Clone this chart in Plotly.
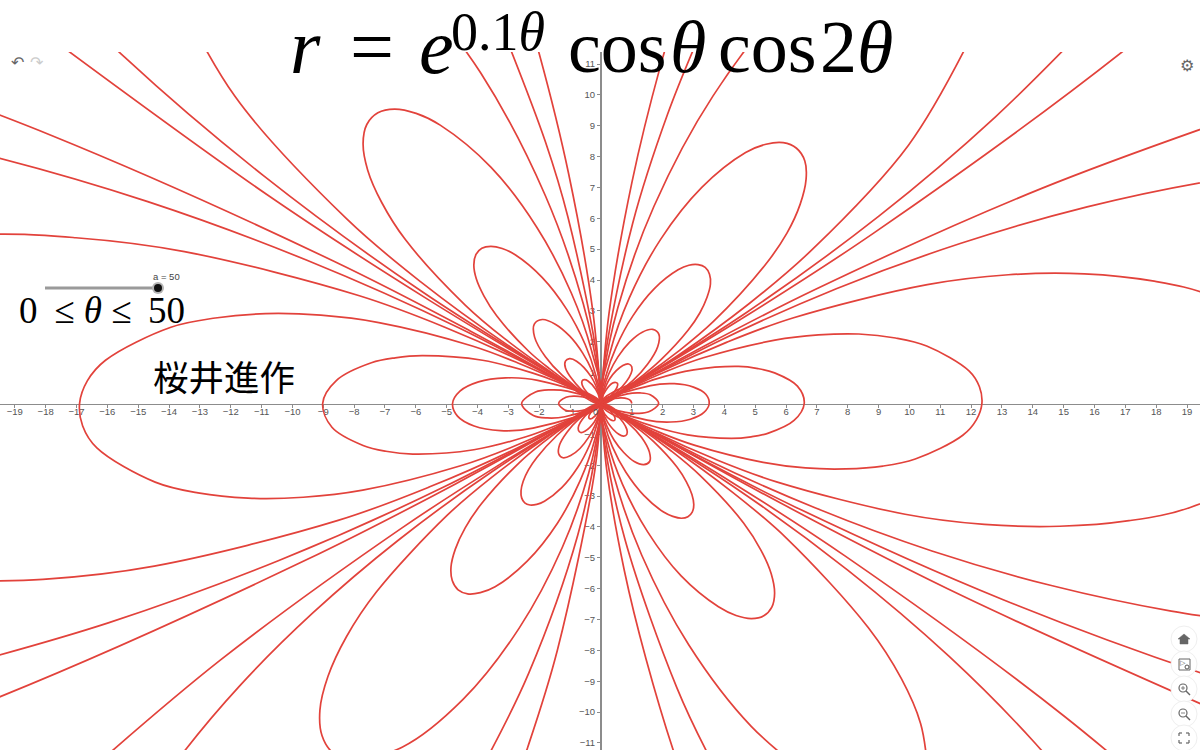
import plotly.graph_objects as go

# Curve points, one list per loop or ray (x, y in axis units).
O = (0, 0)
inner_loops = [
    [(1, 0), (.967, .085), (.855, .151), (.677, .182), (.457, .166), (.269, .120), O],
    [O, (-.22, -.16), (-.38, -.38), (-.39, -.47), (-.35, -.50), (-.28, -.48), (-.11, -.31), (-.02, -.10), O],
    [O, (.02, -.10), (.12, -.34), (.31, -.53), (.40, -.56), (.45, -.54), (.45, -.45), (.26, -.19), O],
    [O, (-.58, .21), (-.88, .24), (-1.13, .20), (-1.37, 0), (-1.17, -.21), (-.93, -.25), (-.63, -.23), O],
    [O, (.29, .21), (.52, .52), (.54, .64), (.48, .68), (.38, .66), (.16, .43), (.02, .14), O],
    [O, (-.03, .14), (-.17, .46), (-.42, .73), (-.54, .77), (-.61, .73), (-.61, .61), (-.36, .26), O],
    [O, (.80, -.29), (1.20, -.32), (1.55, -.27), (1.87, 0), (1.60, .28), (1.27, .34), (.86, .31), O],
    [O, (-.40, -.29), (-.72, -.72), (-.73, -.87), (-.66, -.94), (-.52, -.90), (-.21, -.59), (-.03, -.19), O],
    [O, (.03, -.19), (.23, -.63), (.58, -1.00), (.74, -1.06), (.84, -1.00), (.84, -.84), (.49, -.35), O],
    [O, (-1.09, .40), (-1.65, .44), (-2.12, .37), (-2.57, 0), (-2.19, -.39), (-1.74, -.47), (-1.17, -.43), O],
    [O, (.55, .40), (.98, .98), (1.00, 1.19), (.90, 1.28), (.71, 1.23), (.29, .81), (.05, .25), O],
    [O, (-.05, .26), (-.32, .87), (-.79, 1.37), (-1.02, 1.45), (-1.15, 1.37), (-1.15, 1.15), (-.67, .48), O],
]
middle_loops = [
    [O, (1.50, -.54), (2.26, -.60), (2.90, -.51), (3.34, -.29), (3.51, 0), (3.40, .30), (3.00, .53), (2.38, .64), (1.61, .58), O],
    [O, (-.76, -.55), (-1.10, -.93), (-1.34, -1.34), (-1.37, -1.63), (-1.23, -1.76), (-.98, -1.69), (-.68, -1.46),
     (-.40, -1.10), (-.19, -.71), (-.06, -.35), O],
    [O, (.06, -.36), (.20, -.75), (.43, -1.19), (.74, -1.59), (1.08, -1.88), (1.39, -1.98), (1.58, -1.88),
     (1.57, -1.57), (1.32, -1.10), (.91, -.66), O],
    [O, (-2.05, .75), (-3.09, .83), (-3.97, .70), (-4.57, .40), (-4.81, 0), (-4.65, -.41), (-4.11, -.73), (-3.26, -.88), (-2.20, -.80), O],
    [O, (1.04, .75), (1.51, 1.27), (1.84, 1.84), (1.88, 2.24), (1.68, 2.40), (1.34, 2.31), (.93, 1.99),
     (.55, 1.51), (.26, .97), (.09, .48), O],
    [O, (-.09, .49), (-.27, 1.02), (-.59, 1.63), (-1.01, 2.18), (-1.48, 2.57), (-1.90, 2.72), (-2.16, 2.57),
     (-2.15, 2.15), (-1.80, 1.51), (-1.25, .91), O],
    [O, (.51, -.27), (1.06, -.52), (1.63, -.72), (2.81, -1.02), (4.23, -1.13), (4.87, -1.08), (5.43, -.96), (6.26, -.55), (6.59, 0),
     (6.37, .56), (5.63, .99), (5.09, 1.13), (4.46, 1.20), (3.01, 1.09), (1.77, .79), (1.16, .56), (.56, .30), O],
    [O, (-.52, -.33), (-1.00, -.67), (-1.42, -1.03), (-2.07, -1.74), (-2.35, -2.15), (-2.52, -2.52), (-2.59, -2.83),
     (-2.57, -3.06), (-2.47, -3.22), (-2.30, -3.29), (-2.08, -3.27), (-1.83, -3.17), (-1.27, -2.73), (-.75, -2.07),
     (-.36, -1.33), (-.12, -.65), O],
    [O, (.12, -.67), (.37, -1.40), (.81, -2.23), (1.39, -2.98), (2.03, -3.52), (2.33, -3.66), (2.61, -3.72), (2.82, -3.67),
     (2.96, -3.52), (3.01, -3.28), (2.95, -2.95), (2.77, -2.54), (2.47, -2.07), (1.71, -1.24), (1.21, -.82), (.64, -.40), O],
    [O, (-.70, .37), (-1.45, .71), (-2.23, .99), (-3.84, 1.40), (-5.80, 1.55), (-6.67, 1.48), (-7.44, 1.32), (-8.57, .75), (-9.02, 0),
     (-8.72, -.77), (-7.71, -1.36), (-6.97, -1.55), (-6.10, -1.64), (-4.12, -1.50), (-2.43, -1.08), (-1.59, -.77), (-.77, -.41), O],
    [O, (.72, .45), (1.37, .92), (1.94, 1.41), (2.83, 2.38), (3.21, 2.94), (3.44, 3.44), (3.55, 3.87), (3.52, 4.19),
     (3.38, 4.41), (3.15, 4.50), (2.85, 4.48), (2.50, 4.33), (1.74, 3.73), (1.03, 2.83), (.49, 1.82), (.16, .89), O],
    [O, (-.17, .92), (-.51, 1.91), (-1.11, 3.05), (-1.90, 4.08), (-2.78, 4.82), (-3.20, 5.02), (-3.57, 5.09), (-3.86, 5.03),
     (-4.05, 4.83), (-4.12, 4.49), (-4.04, 4.04), (-3.79, 3.48), (-3.38, 2.84), (-2.35, 1.70), (-1.66, 1.12), (-.88, .55), O],
]
outer_loops = [
    [O, (.96, -.51), (1.98, -.97), (3.05, -1.36), (5.26, -1.91), (6.63, -2.09), (7.94, -2.12), (9.14, -2.03), (10.19, -1.80),
     (11.73, -1.03), (12.17, -.53), (12.35, 0), (12.27, .54), (11.94, 1.05), (10.56, 1.86), (9.55, 2.12), (8.36, 2.25),
     (7.05, 2.22), (5.64, 2.05), (3.32, 1.48), (2.17, 1.06), (1.06, .56), O],
    [O, (-.98, -.61), (-1.87, -1.26), (-2.66, -1.93), (-3.88, -3.26), (-4.40, -4.03), (-4.72, -4.72), (-4.86, -5.30),
     (-4.82, -5.74), (-4.63, -6.04), (-4.32, -6.17), (-3.91, -6.13), (-3.43, -5.94), (-2.39, -5.11), (-1.41, -3.88),
     (-.67, -2.49), (-.21, -1.21), O],
    [O, (.22, -1.26), (.70, -2.62), (1.52, -4.17), (2.60, -5.59), (3.81, -6.59), (4.38, -6.87), (4.88, -6.97), (5.28, -6.88),
     (5.54, -6.60), (5.63, -6.15), (5.52, -5.52), (5.19, -4.76), (4.63, -3.88), (3.21, -2.33), (2.28, -1.54), (1.20, -.75), O],
    [O, (-1.31, .70), (-2.71, 1.32), (-4.17, 1.86), (-7.20, 2.62), (-9.08, 2.86), (-10.87, 2.91), (-12.50, 2.77), (-13.94, 2.47),
     (-16.06, 1.40), (-16.65, .73), (-16.9, 0), (-16.80, -.73), (-16.34, -1.44), (-14.45, -2.55), (-13.06, -2.90), (-11.44, -3.07),
     (-9.65, -3.04), (-7.72, -2.81), (-4.55, -2.02), (-2.97, -1.45), (-1.45, -.77), O],
    [O, (1.34, .84), (2.56, 1.73), (3.64, 2.65), (5.31, 4.47), (6.03, 5.52), (6.46, 6.46), (6.65, 7.26), (6.61, 7.86),
     (6.34, 8.27), (5.91, 8.45), (5.35, 8.40), (4.69, 8.13), (3.27, 7.00), (1.93, 5.31), (.92, 3.42), (.30, 1.67), O],
    [O, (-.31, 1.73), (-.96, 3.58), (-2.08, 5.71), (-3.56, 7.65), (-5.21, 9.02), (-5.99, 9.40), (-6.69, 9.54), (-7.23, 9.42),
     (-7.59, 9.04), (-7.71, 8.42), (-7.56, 7.56), (-7.11, 6.52), (-6.34, 5.31), (-4.40, 3.19), (-3.12, 2.10), (-1.64, 1.03), O],
    [O, (1.80, -.96), (3.71, -1.81), (5.72, -2.55), (9.86, -3.59), (12.43, -3.92), (14.87, -3.98), (17.12, -3.80), (19.10, -3.37),
     (21.99, -1.92), (23.14, 0), (22.38, 1.96), (19.78, 3.49), (17.88, 3.97), (15.67, 4.20), (13.21, 4.17), (10.58, 3.85),
     (6.22, 2.77), (4.07, 1.98), (1.98, 1.05), O],
    [O, (-1.84, -1.15), (-3.51, -2.37), (-4.98, -3.62), (-7.28, -6.11), (-8.25, -7.56), (-8.85, -8.85), (-9.11, -9.94),
     (-9.04, -10.77), (-8.69, -11.32), (-8.10, -11.56), (-6.43, -11.13), (-4.47, -9.59), (-2.65, -7.28), (-1.25, -4.66),
     (-.40, -2.27), (-.05, -.60), O],
]
wide_rays = [
    [O, (.05, -.62), (.42, -2.35), (1.32, -4.91), (2.84, -7.81), (4.88, -10.47), (7.14, -12.36)],
    [(10.56, -11.53), (10.36, -10.36), (9.74, -8.92), (8.67, -7.27), (6.02, -4.37), (4.27, -2.88), (2.25, -1.41), O],
    [O, (-2.46, 1.31), (-5.08, 2.48), (-7.83, 3.49), (-13.50, 4.92), (-17.02, 5.37), (-20.36, 5.46), (-26.15, 4.61)],
    [(-21.45, -5.75), (-18.09, -5.70), (-14.48, -5.27), (-8.52, -3.79), (-5.57, -2.71), (-2.71, -1.44), O],
    [O, (2.52, 1.57), (4.81, 3.24), (6.82, 4.96), (9.97, 8.37), (12.12, 12.12)],
    [(8.80, 15.23), (6.12, 13.13), (3.63, 9.96), (1.72, 6.39), (.55, 3.11), (.07, .83), O],
    [O, (-.07, .84), (-.57, 3.22), (-1.80, 6.73), (-3.89, 10.70), (-6.68, 14.33)],
    [(-14.18, 14.18), (-11.87, 9.96), (-8.24, 5.98), (-5.84, 3.94), (-3.08, 1.93), O],
]
far_rays = [
    [O, (3.37, -1.79), (6.96, -3.39), (10.73, -4.78), (14.6, -5.90), (18.49, -6.73), (22.35, -7.26)],
    [(23.80, 7.73), (19.83, 7.22), (15.76, 6.37), (11.67, 5.19), (7.63, 3.72), (3.71, 1.97), O],
    [O, (-3.44, -2.15), (-6.58, -4.44), (-9.34, -6.79), (-11.71, -9.15), (-13.65, -11.46), (-15.15, -13.64)],
    [(-3.80, -11.70), (-2.34, -8.74), (-.75, -4.26), (-.10, -1.13), O],
    [O, (.10, -1.16), (.78, -4.41), (2.46, -9.21), (3.47, -11.36), (5.33, -14.63)],
    [(16.25, -13.63), (14.04, -10.97), (11.28, -8.19), (8.00, -5.40), (4.22, -2.64), O],
    [O, (-4.61, 2.45), (-9.53, 4.64), (-14.69, 6.54), (-19.98, 8.07), (-25.32, 9.22)],
    [(-21.58, -8.72), (-15.97, -7.11), (-10.44, -5.09), (-5.08, -2.70), O],
    [O, (4.72, 2.95), (9.01, 6.07), (12.79, 9.29), (16.03, 12.52)],
    [(3.21, 11.97), (2.16, 9.37), (1.03, 5.84), (.14, 1.55), O],
    [O, (-.14, 1.58), (-1.07, 6.04), (-1.80, 8.48), (-3.38, 12.61)],
    [(-19.22, 15.02), (-15.44, 11.22), (-10.95, 7.39), (-5.78, 3.61), O],
]
farthest_rays = [
    [O, (3.10, -1.72), (6.31, -3.36), (13.04, -6.36), (20.11, -8.95), (27.4, -11.05)],
    [(21.86, 9.73), (14.29, 6.97), (6.96, 3.70), (3.43, 1.90), O],
    [O, (-3.30, -1.99), (-6.46, -4.04), (-12.34, -8.32), (-17.51, -12.72)],
    [(-3.64, -14.59), (-2.37, -11.13), (-1.41, -7.99), (-.19, -2.12), O],
    [O, (.19, -2.17), (.76, -5.42), (1.46, -8.27), (2.47, -11.61), (4.62, -17.27)],
    [(21.15, -15.37), (15.00, -10.12), (7.91, -4.94), (4.06, -2.44), O],
    [O, (-4.24, 2.35), (-8.64, 4.60), (-17.85, 8.70), (-27.5, 12.25)],
    [(-29.9, -13.3), (-19.57, -9.54), (-9.53, -5.06), (-4.70, -2.60), O],
    [O, (4.52, 2.72), (8.84, 5.52), (16.88, 11.38), (23.97, 17.41)],
    [(3.24, 15.24), (1.93, 10.94), (1.01, 7.19), (.26, 2.90), O],
    [O, (-.26, 2.97), (-1.04, 7.41), (-2.00, 11.33), (-3.38, 15.90)],
    [(-20.54, 13.85), (-10.83, 6.77), (-5.56, 3.34), O],
    [O, (5.81, -3.22), (11.83, -6.29), (24.44, -11.92)],
]

x_tick_values = [v for v in range(-19, 20) if v != 0]
y_tick_values = [v for v in range(-11, 12) if v != 0]


def tick_text(v):
    return f"\u2212{-v}" if v < 0 else str(v)


def px(x):
    return x / 1200


def py(y):
    return 1 - y / 750


xs, ys = [], []
for group in (inner_loops, middle_loops, outer_loops, wide_rays, far_rays, farthest_rays):
    for piece in group:
        xs += [p[0] for p in piece] + [None]
        ys += [p[1] for p in piece] + [None]

fig = go.Figure(go.Scatter(x=xs, y=ys, mode="lines", hoverinfo="skip",
                           line=dict(color="#e2423b", width=1.7, shape="spline", smoothing=1.0)))

AXIS = "#8c8c8c"
TICKFONT = dict(family="Liberation Sans", size=9.5, color="#555555")
fig.update_layout(
    width=1200, height=750, margin=dict(l=0, r=0, t=0, b=0, pad=0),
    paper_bgcolor="white", plot_bgcolor="white", showlegend=False,
    xaxis=dict(range=[-19.48, 19.42], domain=[0, 1], anchor="free", position=0.462,
               showgrid=False, zeroline=False, showline=True, linecolor=AXIS, linewidth=1.2, layer="below traces",
               tickmode="array", tickvals=x_tick_values, ticktext=[tick_text(v) for v in x_tick_values],
               ticks="outside", ticklen=3, tickcolor=AXIS, tickfont=TICKFONT, ticklabelstandoff=-4),
    yaxis=dict(range=[-11.23, 11.39], domain=[0, 0.9307], anchor="free", position=0.5008,
               showgrid=False, zeroline=False, showline=True, linecolor=AXIS, linewidth=2, layer="below traces",
               tickmode="array", tickvals=y_tick_values, ticktext=[tick_text(v) for v in y_tick_values],
               ticks="outside", ticklen=3, tickcolor=AXIS, tickfont=TICKFONT),
)

SERIF = "Liberation Serif"


def label(text, x, y, size, family=SERIF, color="black", anchor="left"):
    fig.add_annotation(text=text, x=px(x), y=py(y), xref="paper", yref="paper", showarrow=False,
                       xanchor=anchor, yanchor="middle", align="left",
                       font=dict(family=family, size=size, color=color))


# Title, placed piece by piece
label("<i>r</i>", 288, 47, 78)
label("=", 348, 47, 78)
label("<i>e</i>", 417, 47, 78)
label("0.1<i>\u03b8</i>", 449, 32, 54)
label("cos", 566, 47, 74)
label("<i>\u03b8</i>", 668, 47, 74)
label("cos", 716, 47, 74)
label("2<i>\u03b8</i>", 818, 47, 74)
# Range text and author
label("0\u2009 \u2264 <i>\u03b8</i> \u2264\u2009 50", 17, 310, 37)
label("\u685c\u4e95\u9032\u4f5c", 151, 375, 35.5, family="Noto Sans CJK JP")
label("a = 50", 166, 276, 9.5, family="Liberation Sans", color="#444444", anchor="center")
label("0", 595, 411, 9.5, family="Liberation Sans", color="#555555", anchor="center")

# Toolbar icons
label("\u21b6", 17, 63, 16, family="DejaVu Sans", color="#666666", anchor="center")
label("\u21b7", 37, 63, 16, family="DejaVu Sans", color="#cccccc", anchor="center")
label("\u2699", 1187, 65, 16, family="DejaVu Sans", color="#666666", anchor="center")

shapes = []


def circle(cx, cy, r, fill, line="rgba(0,0,0,0)", width=1):
    shapes.append(dict(type="circle", xref="paper", yref="paper", layer="above",
                       x0=px(cx - r), x1=px(cx + r), y0=py(cy + r), y1=py(cy - r),
                       fillcolor=fill, line=dict(color=line, width=width)))


def segment(x0, y0, x1, y1, color, width):
    shapes.append(dict(type="line", xref="paper", yref="paper", layer="above",
                       x0=px(x0), x1=px(x1), y0=py(y0), y1=py(y1), line=dict(color=color, width=width)))


# Slider
segment(45, 288, 158, 288, "#9a9a9a", 3)
circle(158, 288, 6, "#b5b5b5")
circle(158, 288, 4, "#111111")

# Right-hand round buttons
BUTTON_Y = [639, 664, 689, 714, 738]
for by in BUTTON_Y:
    circle(1184, by, 13, "white", "#efefef", 1)
home = [(1178, 639), (1184, 634), (1190, 639), (1188, 639), (1188, 644), (1180, 644), (1180, 639)]
home_path = "M " + " L ".join(f"{px(a):.5f} {py(b):.5f}" for a, b in home) + " Z"
shapes.append(dict(type="path", xref="paper", yref="paper", layer="above", path=home_path,
                   fillcolor="#666666", line=dict(color="#666666", width=0.5)))
shapes.append(dict(type="rect", xref="paper", yref="paper", layer="above", x0=px(1179), x1=px(1190), y0=py(670),
                   y1=py(659), line=dict(color="#666666", width=1), fillcolor="white"))
label("\u25b7", 1183, 663, 7, family="DejaVu Sans", color="#555555", anchor="center")
circle(1187, 667, 2, "white", "#555555", 1)
for by, plus in ((689, True), (714, False)):
    circle(1183, by - 1, 4, "white", "#666666", 1.2)
    segment(1186, by + 2, 1190, by + 6, "#666666", 1.5)
    segment(1181, by - 1, 1185, by - 1, "#666666", 0.8)
    if plus:
        segment(1183, by - 3, 1183, by + 1, "#666666", 0.8)
for dx, dy in ((-1, -1), (1, -1), (-1, 1), (1, 1)):
    segment(1184 + dx * 5, 738 + dy * 5, 1184 + dx * 2, 738 + dy * 5, "#666666", 1.2)
    segment(1184 + dx * 5, 738 + dy * 5, 1184 + dx * 5, 738 + dy * 2, "#666666", 1.2)
fig.update_layout(shapes=shapes)

fig.write_html("out.html", post_script="document.body.style.margin='0';", config=dict(displayModeBar=False))
